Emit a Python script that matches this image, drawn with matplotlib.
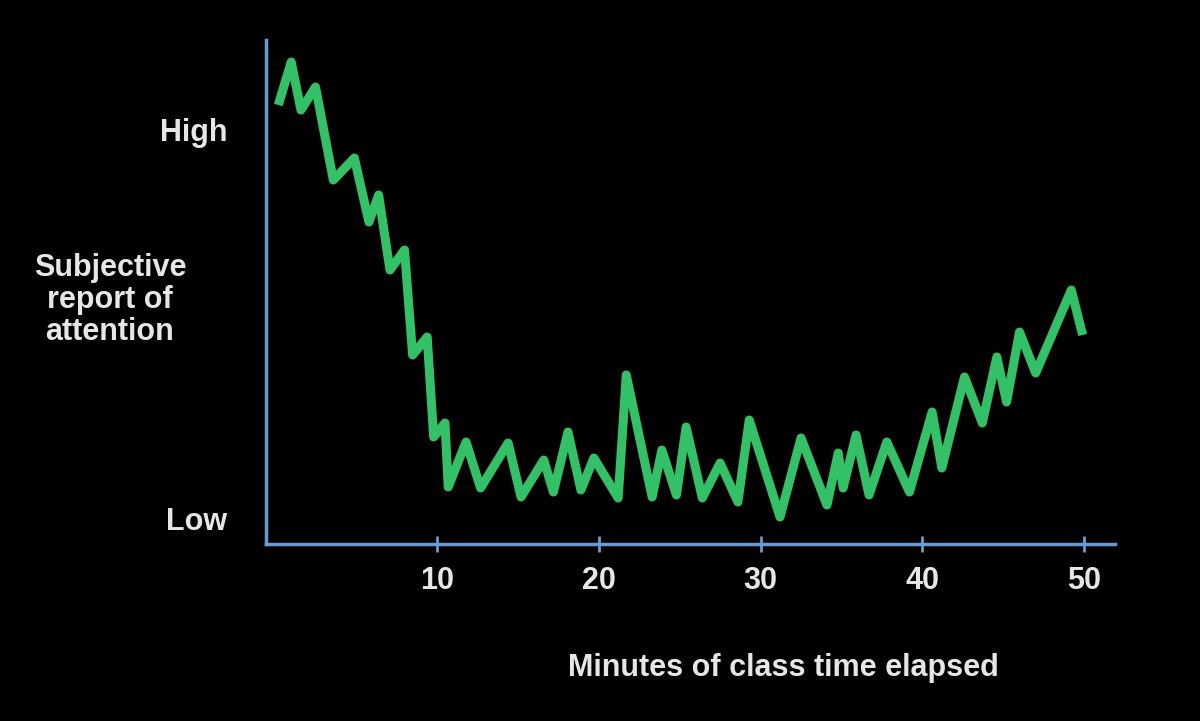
import matplotlib
matplotlib.use('Agg')
import matplotlib.pyplot as plt

# minutes elapsed vs. reported attention (arbitrary units, 0 = bottom of axis)
minutes = [0.2, 1.0, 1.6, 2.5, 3.6, 4.9, 5.8, 6.4, 7.1, 8.0, 8.5, 9.4, 9.8, 10.5,
           10.7, 11.8, 12.7, 14.4, 15.2, 16.6, 17.2, 18.1, 18.9, 19.7, 21.2, 21.7,
           23.3, 23.9, 24.8, 25.4, 26.4, 27.5, 28.6, 29.3, 31.2, 32.5, 34.1, 34.8,
           35.1, 35.9, 36.7, 37.8, 39.2, 40.6, 41.2, 42.6, 43.7, 44.6, 45.2, 46.0,
           47.0, 49.2, 49.9]
attention = [439, 482, 434, 457, 364, 386, 322, 349, 274, 294, 189, 207, 107, 121,
             57, 102, 56, 101, 47, 84, 52, 112, 54, 86, 46, 169,
             47, 94, 49, 117, 46, 81, 42, 124, 27, 106, 39, 91,
             56, 109, 49, 102, 52, 132, 76, 167, 121, 187, 142, 212,
             171, 254, 209]
xticks = [10, 20, 30, 40, 50]
ytick_pos = [26, 414]
ytick_labels = ['Low', 'High']

plt.rcParams['font.family'] = ['Liberation Sans', 'DejaVu Sans']
txt = '#e6e6e6'
axis_col = '#6a9bd0'
fs = 22

fig = plt.figure(figsize=(12, 7.21), dpi=100, facecolor='black')
ax = fig.add_axes([266/1200, 177/721, 849/1200, 504/721], facecolor='black')
ax.plot(minutes, attention, color='#33c067', lw=6.5, solid_joinstyle='round',
        solid_capstyle='butt')
ax.set_xlim(-0.56, 51.9)
ax.set_ylim(0, 504)

for s in ['top', 'right']:
    ax.spines[s].set_visible(False)
for s in ['left', 'bottom']:
    ax.spines[s].set_color(axis_col)
    ax.spines[s].set_linewidth(2.5)

ax.set_xticks(xticks)
ax.set_xticklabels([str(t) for t in xticks], fontsize=fs, fontweight='bold', color=txt)
ax.tick_params(axis='x', direction='inout', length=12, width=2, color=axis_col, pad=10)
ax.set_yticks(ytick_pos)
ax.set_yticklabels(ytick_labels, fontsize=fs, fontweight='bold', color=txt)
ax.tick_params(axis='y', length=0, pad=28)

fig.text(110/1200, 1 - 300/721, 'Subjective\nreport of\nattention', ha='center',
         va='center', fontsize=fs, fontweight='bold', color=txt, linespacing=1.1)
fig.text(783/1200, 1 - 668/721, 'Minutes of class time elapsed', ha='center',
         va='center', fontsize=fs, fontweight='bold', color=txt)

fig.savefig('out.png', dpi=100, facecolor='black')
